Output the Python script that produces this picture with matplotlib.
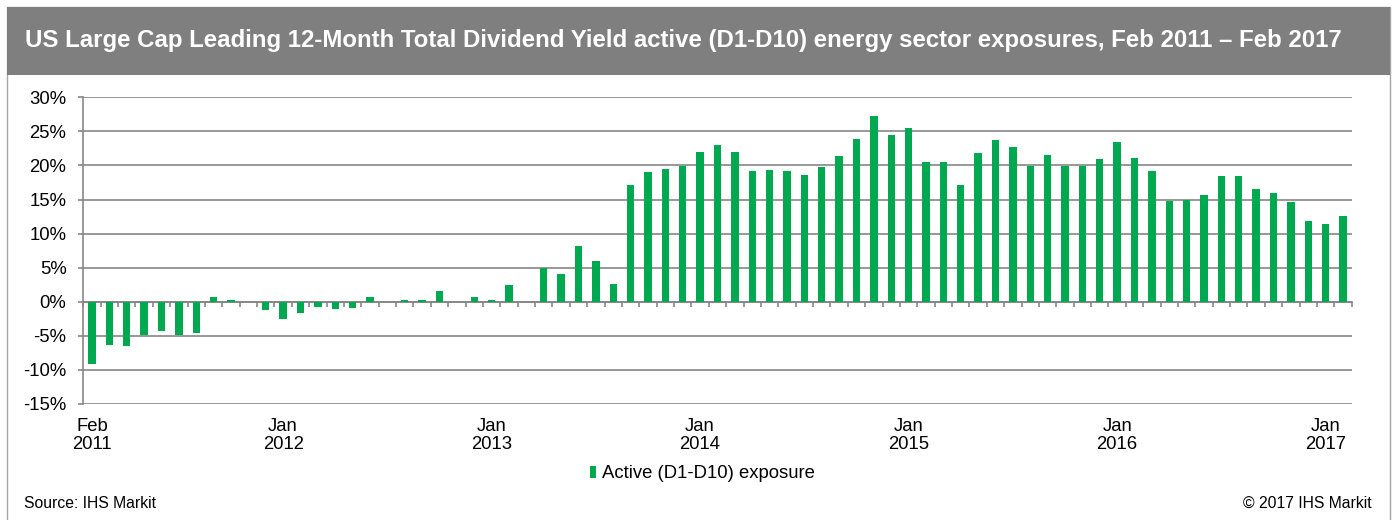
import matplotlib
matplotlib.use("Agg")
import matplotlib.pyplot as plt
from matplotlib.patches import Rectangle
from matplotlib.ticker import FixedLocator, PercentFormatter

plt.rcParams['font.family'] = ['Liberation Sans', 'DejaVu Sans']
plt.rcParams['axes.unicode_minus'] = False

# Monthly data, Feb 2011 .. Feb 2017 (73 months), active (D1-D10) exposure in %
months = [f"{m} {y}" for y in range(2011, 2018) for m in
          ["Jan", "Feb", "Mar", "Apr", "May", "Jun", "Jul", "Aug", "Sep", "Oct", "Nov", "Dec"]][1:74]
exposure = [
    -9.1, -6.4, -6.5, -4.9, -4.35, -4.85, -4.55, 0.65, 0.2, 0.0, -1.2,          # Feb-Dec 2011
    -2.6, -1.7, -0.7, -1.0, -0.9, 0.65, 0.0, 0.2, 0.25, 1.55, 0.0, 0.65,        # 2012
    0.2, 2.4, -0.1, 5.0, 4.05, 8.25, 6.05, 2.55, 17.2, 19.1, 19.55, 19.95,      # 2013
    21.95, 22.95, 22.0, 19.15, 19.3, 19.15, 18.6, 19.8, 21.4, 23.85, 27.3, 24.4,  # 2014
    25.5, 20.5, 20.45, 17.1, 21.9, 23.75, 22.75, 19.9, 21.55, 19.9, 19.9, 21.0,   # 2015
    23.45, 21.1, 19.25, 14.8, 14.9, 15.6, 18.45, 18.45, 16.5, 15.95, 14.65, 11.8,  # 2016
    11.45, 12.65,                                                                 # Jan-Feb 2017
]
tick_months = ["Feb 2011", "Jan 2012", "Jan 2013", "Jan 2014", "Jan 2015", "Jan 2016", "Jan 2017"]
y_ticks = [-15, -10, -5, 0, 5, 10, 15, 20, 25, 30]

title = "US Large Cap Leading 12-Month Total Dividend Yield active (D1-D10) energy sector exposures, Feb 2011 \u2013 Feb 2017"
series_name = "Active (D1-D10) exposure"
source = "Source: IHS Markit"
copyright_txt = "\u00a9 2017 IHS Markit"

W, H = 1392, 520
fig = plt.figure(figsize=(W / 100, H / 100), dpi=100)

def fx(px):
    return px / W

def fy(py):
    return 1 - py / H

GREY = "#868686"
GREEN = "#00A94F"
FS = 13.3

# outer frame and title banner
fig.patches.append(Rectangle((fx(7), fy(525)), fx(1390 - 7), (525 - 7) / H,
                             transform=fig.transFigure, facecolor="none",
                             edgecolor="#A6A6A6", linewidth=1.0, zorder=0))
fig.patches.append(Rectangle((fx(7), fy(75)), fx(1390 - 7), (75 - 7) / H,
                             transform=fig.transFigure, facecolor="#7F7F7F",
                             edgecolor="none", zorder=1))
fig.text(fx(25), fy(46.5), title, color="white", fontsize=17.25, fontweight="bold",
         ha="left", va="baseline", zorder=2)

ax = fig.add_axes([fx(83.3), fy(404), fx(1351.7 - 83.3), (404 - 97.3) / H])
ax.set_facecolor("none")
ax.set_zorder(5)

x = list(range(len(months)))
ax.bar(x, exposure, width=0.42, color=GREEN, zorder=3, label=series_name)

ax.set_xlim(-0.5, len(months) - 0.5)
ax.set_ylim(-15, 30)
ax.yaxis.set_major_locator(FixedLocator(y_ticks))
ax.yaxis.set_major_formatter(PercentFormatter(decimals=0))
ax.grid(axis="y", color=GREY, linewidth=1.2, zorder=1)
ax.set_axisbelow(True)

for s in ["top", "right", "bottom"]:
    ax.spines[s].set_visible(False)
ax.spines["left"].set_color(GREY)
ax.spines["left"].set_linewidth(1.2)
ax.tick_params(axis="y", length=3.6, width=1.2, color=GREY, labelsize=FS, pad=8.5)

tick_pos = [months.index(m) for m in tick_months]
ax.set_xticks(tick_pos)
ax.set_xticklabels([m.replace(" ", "\n") for m in tick_months], fontsize=FS, linespacing=1.1)
ax.tick_params(axis="x", length=0, pad=10)

# zero line with category-boundary ticks
sec = ax.secondary_xaxis(15 / 45)
sec.set_xticks([i - 0.5 for i in range(len(months) + 1)])
sec.set_xticklabels([])
sec.tick_params(axis="x", length=3.5, width=1.2, color=GREY, direction="out")
sec.spines["bottom"].set_color(GREY)
sec.spines["bottom"].set_linewidth(1.2)

leg = ax.legend(loc="center", bbox_to_anchor=(fx(702), fy(474)), bbox_transform=fig.transFigure,
                frameon=False, fontsize=FS, handlelength=0.35, handleheight=0.6,
                handletextpad=0.3, borderpad=0)

fig.text(fx(24), fy(507.5), source, fontsize=11.35, ha="left", va="baseline")
fig.text(fx(1372), fy(507.5), copyright_txt, fontsize=11.35, ha="right", va="baseline")

fig.savefig("out.png", dpi=100)
